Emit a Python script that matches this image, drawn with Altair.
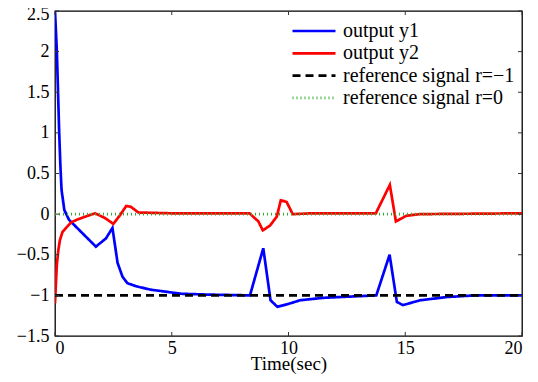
import altair as alt
import pandas as pd

series_names = ["output y1", "output y2", "reference signal r=\u22121", "reference signal r=0"]

t_y1 = [0, 0.08, 0.13, 0.18, 0.23, 0.28, 0.4, 0.6, 1.75, 2.18, 2.46, 2.68, 2.89, 3.1, 3.5, 4.1, 5.4, 6.5,
        8.35, 8.92, 9.23, 9.52, 9.94, 10.5, 11.5, 13.76, 14.33, 14.64, 14.9, 15.64, 16.8, 18, 20]
v_y1 = [2.5, 2.0, 1.5, 1.0, 0.6, 0.3, 0.05, -0.07, -0.4, -0.3, -0.17, -0.6, -0.77, -0.85, -0.89, -0.93, -0.98, -0.99,
        -1.0, -0.42, -1.06, -1.14, -1.11, -1.06, -1.03, -1.0, -0.5, -1.08, -1.12, -1.06, -1.02, -1.0, -1.0]

t_y2 = [0, 0.04, 0.08, 0.14, 0.21, 0.32, 0.5, 0.7, 0.93, 1.35, 1.72, 2.15, 2.5, 2.79, 3.05, 3.25, 3.57, 5,
        8.33, 8.71, 8.9, 9.21, 9.5, 9.67, 9.92, 10.18, 11, 13.74, 14.34, 14.6, 15.05, 15.62, 20]
v_y2 = [-1.1, -0.85, -0.62, -0.45, -0.32, -0.22, -0.16, -0.1, -0.07, -0.025, 0.01, -0.05, -0.12, -0.01, 0.1, 0.09, 0.02, 0.01,
        0.01, -0.09, -0.2, -0.14, -0.03, 0.17, 0.15, 0.0, 0.01, 0.01, 0.36, -0.09, -0.02, 0.0, 0.01]

t_ref = [0, 20]
v_ref1 = [-1, -1]
v_ref0 = [0, 0]

x_ticks = [0, 5, 10, 15, 20]
y_ticks = [-1.5, -1, -0.5, 0, 0.5, 1, 1.5, 2, 2.5]

rows = []
for s, ts, vs in [(series_names[0], t_y1, v_y1), (series_names[1], t_y2, v_y2),
                  (series_names[2], t_ref, v_ref1), (series_names[3], t_ref, v_ref0)]:
    for t, v in zip(ts, vs):
        rows.append({"series": s, "t": t, "y": v})
df = pd.DataFrame(rows)

W, H = 467, 325
FONT = "Liberation Serif"

xscale = alt.Scale(domain=[0, 20], nice=False, zero=False)
yscale = alt.Scale(domain=[-1.5, 2.5], nice=False, zero=False)

legend = alt.Legend(
    title=None, orient="none", legendX=236, legendY=11, padding=0,
    symbolType="stroke", symbolSize=1849, symbolStrokeWidth=2.2,
    labelFont=FONT, labelFontSize=20, labelColor="black", labelOffset=6, labelLimit=400,
    rowPadding=2.3, clipHeight=18,
)

lines = alt.Chart(df).mark_line(clip=True).encode(
    x=alt.X("t:Q", scale=xscale,
            axis=alt.Axis(values=x_ticks, format="d", title="Time(sec)", domain=False, ticks=False,
                          grid=False, labelFont=FONT, labelFontSize=18, labelColor="black",
                          labelPadding=3, titleFont=FONT, titleFontSize=19, titleFontWeight="normal",
                          titleColor="black", titleY=33, titleBaseline="alphabetic")),
    y=alt.Y("y:Q", scale=yscale,
            axis=alt.Axis(values=y_ticks, format=".1~f", title=None, domain=False, ticks=False,
                          grid=False, labelFont=FONT, labelFontSize=18, labelColor="black",
                          labelPadding=6,
                          labelOffset={"condition": {"test": "datum.value == 2.5", "value": 3}, "value": 0})),
    color=alt.Color("series:N", scale=alt.Scale(domain=series_names,
                                                 range=["#0000ff", "#ff0000", "#000000", "#33aa33"]),
                    legend=legend),
    strokeDash=alt.StrokeDash("series:N", scale=alt.Scale(domain=series_names,
                                                          range=[[1, 0], [1, 0], [8, 5], [1, 3]]),
                              legend=legend),
    strokeWidth=alt.StrokeWidth("series:N", scale=alt.Scale(domain=series_names,
                                                            range=[2.7, 2.7, 2.2, 1.2]),
                                legend=legend),
    order=alt.Order("series:N"),
)

xt = pd.DataFrame({"v": x_ticks})
yt = pd.DataFrame({"v": y_ticks})
tick_style = dict(color="#333333", strokeWidth=1)
xt_bot = alt.Chart(xt).mark_rule(**tick_style).encode(x=alt.X("v:Q", scale=xscale), y=alt.value(H), y2=alt.value(H - 4))
xt_top = alt.Chart(xt).mark_rule(**tick_style).encode(x=alt.X("v:Q", scale=xscale), y=alt.value(0), y2=alt.value(4))
yt_left = alt.Chart(yt).mark_rule(**tick_style).encode(y=alt.Y("v:Q", scale=yscale), x=alt.value(0), x2=alt.value(4))
yt_right = alt.Chart(yt).mark_rule(**tick_style).encode(y=alt.Y("v:Q", scale=yscale), x=alt.value(W), x2=alt.value(W - 4))

chart = alt.layer(lines, xt_bot, xt_top, yt_left, yt_right).properties(
    width=W, height=H,
    autosize=alt.AutoSizeParams(type="none"),
    padding={"left": 47, "top": 3, "right": 8, "bottom": 38},
    background="white",
).configure(font=FONT).configure_view(stroke="black", strokeWidth=1.3)

chart.save("out.html", embed_options={"renderer": "svg", "actions": False})
